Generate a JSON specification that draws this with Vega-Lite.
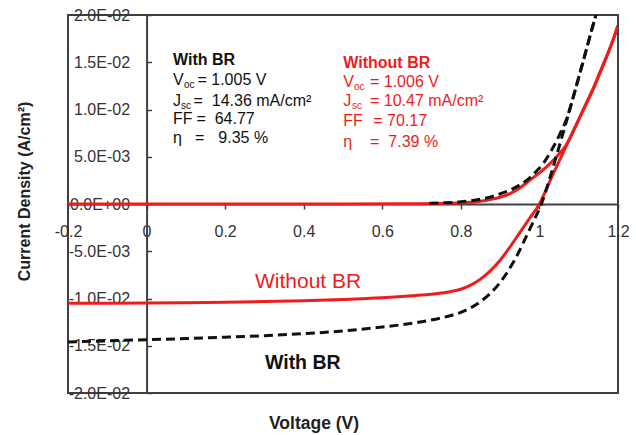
{
  "$schema": "https://vega.github.io/schema/vega-lite/v6.json",
  "width": 550,
  "height": 378,
  "autosize": {"type": "none"},
  "padding": {"left": 68, "top": 15, "right": 18, "bottom": 42},
  "background": "white",
  "config": {
    "view": {"stroke": "#404040", "strokeWidth": 2},
    "font": "Liberation Sans"
  },
  "datasets": {
    "curves": [
      {"sample": "Without BR", "condition": "light", "V": -0.2, "J": -0.0105},
      {"sample": "Without BR", "condition": "light", "V": -0.1, "J": -0.01049},
      {"sample": "Without BR", "condition": "light", "V": 0.0, "J": -0.01047},
      {"sample": "Without BR", "condition": "light", "V": 0.1, "J": -0.01044},
      {"sample": "Without BR", "condition": "light", "V": 0.2, "J": -0.0104},
      {"sample": "Without BR", "condition": "light", "V": 0.3, "J": -0.01033},
      {"sample": "Without BR", "condition": "light", "V": 0.4, "J": -0.01024},
      {"sample": "Without BR", "condition": "light", "V": 0.5, "J": -0.01011},
      {"sample": "Without BR", "condition": "light", "V": 0.6, "J": -0.00993},
      {"sample": "Without BR", "condition": "light", "V": 0.65, "J": -0.0098},
      {"sample": "Without BR", "condition": "light", "V": 0.7, "J": -0.00964},
      {"sample": "Without BR", "condition": "light", "V": 0.75, "J": -0.00942},
      {"sample": "Without BR", "condition": "light", "V": 0.775, "J": -0.00926},
      {"sample": "Without BR", "condition": "light", "V": 0.8, "J": -0.00902},
      {"sample": "Without BR", "condition": "light", "V": 0.825, "J": -0.00859},
      {"sample": "Without BR", "condition": "light", "V": 0.85, "J": -0.00795},
      {"sample": "Without BR", "condition": "light", "V": 0.875, "J": -0.00707},
      {"sample": "Without BR", "condition": "light", "V": 0.9, "J": -0.00595},
      {"sample": "Without BR", "condition": "light", "V": 0.925, "J": -0.00455},
      {"sample": "Without BR", "condition": "light", "V": 0.95, "J": -0.00303},
      {"sample": "Without BR", "condition": "light", "V": 0.975, "J": -0.00151},
      {"sample": "Without BR", "condition": "light", "V": 1.0, "J": 0.0},
      {"sample": "Without BR", "condition": "light", "V": 1.018, "J": 0.0016},
      {"sample": "Without BR", "condition": "light", "V": 1.035, "J": 0.0032},
      {"sample": "Without BR", "condition": "light", "V": 1.052, "J": 0.0047},
      {"sample": "Without BR", "condition": "light", "V": 1.069, "J": 0.0062},
      {"sample": "Without BR", "condition": "light", "V": 1.086, "J": 0.0077},
      {"sample": "Without BR", "condition": "light", "V": 1.103, "J": 0.0092},
      {"sample": "Without BR", "condition": "light", "V": 1.12, "J": 0.0107},
      {"sample": "Without BR", "condition": "light", "V": 1.137, "J": 0.0122},
      {"sample": "Without BR", "condition": "light", "V": 1.154, "J": 0.0139},
      {"sample": "Without BR", "condition": "light", "V": 1.171, "J": 0.0156},
      {"sample": "Without BR", "condition": "light", "V": 1.186, "J": 0.0172},
      {"sample": "Without BR", "condition": "light", "V": 1.2, "J": 0.0189},

      {"sample": "Without BR", "condition": "dark", "V": -0.2, "J": 0.0},
      {"sample": "Without BR", "condition": "dark", "V": 0.2, "J": 0.0},
      {"sample": "Without BR", "condition": "dark", "V": 0.5, "J": 0.0},
      {"sample": "Without BR", "condition": "dark", "V": 0.7, "J": 0.00003},
      {"sample": "Without BR", "condition": "dark", "V": 0.75, "J": 0.00006},
      {"sample": "Without BR", "condition": "dark", "V": 0.8, "J": 0.00012},
      {"sample": "Without BR", "condition": "dark", "V": 0.85, "J": 0.0003},
      {"sample": "Without BR", "condition": "dark", "V": 0.875, "J": 0.00048},
      {"sample": "Without BR", "condition": "dark", "V": 0.9, "J": 0.00072},
      {"sample": "Without BR", "condition": "dark", "V": 0.925, "J": 0.0011},
      {"sample": "Without BR", "condition": "dark", "V": 0.95, "J": 0.0017},
      {"sample": "Without BR", "condition": "dark", "V": 0.975, "J": 0.0025},
      {"sample": "Without BR", "condition": "dark", "V": 1.0, "J": 0.0033},
      {"sample": "Without BR", "condition": "dark", "V": 1.025, "J": 0.0042},
      {"sample": "Without BR", "condition": "dark", "V": 1.05, "J": 0.0053},
      {"sample": "Without BR", "condition": "dark", "V": 1.069, "J": 0.0063},
      {"sample": "Without BR", "condition": "dark", "V": 1.086, "J": 0.0077},
      {"sample": "Without BR", "condition": "dark", "V": 1.103, "J": 0.0092},
      {"sample": "Without BR", "condition": "dark", "V": 1.12, "J": 0.0107},
      {"sample": "Without BR", "condition": "dark", "V": 1.137, "J": 0.0122},
      {"sample": "Without BR", "condition": "dark", "V": 1.154, "J": 0.0139},
      {"sample": "Without BR", "condition": "dark", "V": 1.171, "J": 0.0156},
      {"sample": "Without BR", "condition": "dark", "V": 1.186, "J": 0.0172},
      {"sample": "Without BR", "condition": "dark", "V": 1.2, "J": 0.0189},

      {"sample": "With BR", "condition": "light", "V": -0.2, "J": -0.0146},
      {"sample": "With BR", "condition": "light", "V": -0.1, "J": -0.01448},
      {"sample": "With BR", "condition": "light", "V": 0.0, "J": -0.01436},
      {"sample": "With BR", "condition": "light", "V": 0.1, "J": -0.01424},
      {"sample": "With BR", "condition": "light", "V": 0.2, "J": -0.0141},
      {"sample": "With BR", "condition": "light", "V": 0.3, "J": -0.01394},
      {"sample": "With BR", "condition": "light", "V": 0.4, "J": -0.01372},
      {"sample": "With BR", "condition": "light", "V": 0.5, "J": -0.01343},
      {"sample": "With BR", "condition": "light", "V": 0.6, "J": -0.01302},
      {"sample": "With BR", "condition": "light", "V": 0.65, "J": -0.01277},
      {"sample": "With BR", "condition": "light", "V": 0.7, "J": -0.01246},
      {"sample": "With BR", "condition": "light", "V": 0.75, "J": -0.01206},
      {"sample": "With BR", "condition": "light", "V": 0.775, "J": -0.0118},
      {"sample": "With BR", "condition": "light", "V": 0.8, "J": -0.01146},
      {"sample": "With BR", "condition": "light", "V": 0.825, "J": -0.01098},
      {"sample": "With BR", "condition": "light", "V": 0.85, "J": -0.01033},
      {"sample": "With BR", "condition": "light", "V": 0.875, "J": -0.00945},
      {"sample": "With BR", "condition": "light", "V": 0.9, "J": -0.0083},
      {"sample": "With BR", "condition": "light", "V": 0.92, "J": -0.0071},
      {"sample": "With BR", "condition": "light", "V": 0.94, "J": -0.0057},
      {"sample": "With BR", "condition": "light", "V": 0.96, "J": -0.0040},
      {"sample": "With BR", "condition": "light", "V": 0.983, "J": -0.0020},
      {"sample": "With BR", "condition": "light", "V": 1.005, "J": 0.0},
      {"sample": "With BR", "condition": "light", "V": 1.027, "J": 0.0028},
      {"sample": "With BR", "condition": "light", "V": 1.044, "J": 0.0052},
      {"sample": "With BR", "condition": "light", "V": 1.065, "J": 0.0082},
      {"sample": "With BR", "condition": "light", "V": 1.086, "J": 0.0113},
      {"sample": "With BR", "condition": "light", "V": 1.1, "J": 0.0134},
      {"sample": "With BR", "condition": "light", "V": 1.112, "J": 0.0152},
      {"sample": "With BR", "condition": "light", "V": 1.127, "J": 0.0175},
      {"sample": "With BR", "condition": "light", "V": 1.145, "J": 0.0202},

      {"sample": "With BR", "condition": "dark", "V": 0.72, "J": 0.00008},
      {"sample": "With BR", "condition": "dark", "V": 0.75, "J": 0.00012},
      {"sample": "With BR", "condition": "dark", "V": 0.8, "J": 0.00023},
      {"sample": "With BR", "condition": "dark", "V": 0.85, "J": 0.0005},
      {"sample": "With BR", "condition": "dark", "V": 0.88, "J": 0.0008},
      {"sample": "With BR", "condition": "dark", "V": 0.91, "J": 0.00122},
      {"sample": "With BR", "condition": "dark", "V": 0.933, "J": 0.00163},
      {"sample": "With BR", "condition": "dark", "V": 0.955, "J": 0.00215},
      {"sample": "With BR", "condition": "dark", "V": 0.976, "J": 0.0028},
      {"sample": "With BR", "condition": "dark", "V": 0.993, "J": 0.0035},
      {"sample": "With BR", "condition": "dark", "V": 1.01, "J": 0.0043},
      {"sample": "With BR", "condition": "dark", "V": 1.035, "J": 0.006},
      {"sample": "With BR", "condition": "dark", "V": 1.052, "J": 0.0074},
      {"sample": "With BR", "condition": "dark", "V": 1.07, "J": 0.0091},
      {"sample": "With BR", "condition": "dark", "V": 1.086, "J": 0.0113},
      {"sample": "With BR", "condition": "dark", "V": 1.1, "J": 0.0134},
      {"sample": "With BR", "condition": "dark", "V": 1.112, "J": 0.0152},
      {"sample": "With BR", "condition": "dark", "V": 1.127, "J": 0.0175},
      {"sample": "With BR", "condition": "dark", "V": 1.145, "J": 0.0202}
    ],
    "notes": [
      {"block": "With BR", "role": "header", "x": 0.0673, "y": 0.01519, "text": "With BR"},
      {"block": "With BR", "role": "body", "x": 0.0673, "y": 0.01312, "text": "V"},
      {"block": "With BR", "role": "sub", "x": 0.0953, "y": 0.01312, "text": "oc"},
      {"block": "With BR", "role": "body", "x": 0.1295, "y": 0.01312, "text": "= 1.005 V"},
      {"block": "With BR", "role": "body", "x": 0.0673, "y": 0.01095, "text": "J"},
      {"block": "With BR", "role": "sub", "x": 0.0876, "y": 0.01095, "text": "sc"},
      {"block": "With BR", "role": "body", "x": 0.1195, "y": 0.01095, "text": "=\u00a0\u00a014.36 mA/cm²"},
      {"block": "With BR", "role": "body", "x": 0.0673, "y": 0.009, "text": "FF"},
      {"block": "With BR", "role": "body", "x": 0.127, "y": 0.009, "text": "=\u00a0\u00a064.77"},
      {"block": "With BR", "role": "body", "x": 0.0673, "y": 0.00698, "text": "η"},
      {"block": "With BR", "role": "body", "x": 0.1233, "y": 0.00698, "text": "="},
      {"block": "With BR", "role": "body", "x": 0.1826, "y": 0.00698, "text": "9.35 %"},
      {"block": "Without BR", "role": "header", "x": 0.5008, "y": 0.01489, "text": "Without BR"},
      {"block": "Without BR", "role": "body", "x": 0.5008, "y": 0.01286, "text": "V"},
      {"block": "Without BR", "role": "sub", "x": 0.528, "y": 0.01286, "text": "oc"},
      {"block": "Without BR", "role": "body", "x": 0.5687, "y": 0.01286, "text": "= 1.006 V"},
      {"block": "Without BR", "role": "body", "x": 0.5008, "y": 0.01092, "text": "J"},
      {"block": "Without BR", "role": "sub", "x": 0.5229, "y": 0.01092, "text": "sc"},
      {"block": "Without BR", "role": "body", "x": 0.5687, "y": 0.01092, "text": "= 10.47 mA/cm²"},
      {"block": "Without BR", "role": "body", "x": 0.5008, "y": 0.00876, "text": "FF"},
      {"block": "Without BR", "role": "body", "x": 0.5771, "y": 0.00876, "text": "= 70.17"},
      {"block": "Without BR", "role": "body", "x": 0.5008, "y": 0.00651, "text": "η"},
      {"block": "Without BR", "role": "body", "x": 0.5687, "y": 0.00651, "text": "="},
      {"block": "Without BR", "role": "body", "x": 0.6153, "y": 0.00651, "text": "7.39 %"},
      {"block": "Without BR", "role": "label", "x": 0.276, "y": -0.00822, "text": "Without BR"},
      {"block": "With BR", "role": "label", "x": 0.3014, "y": -0.01679, "text": "With BR"}
    ]
  },
  "layer": [
    {
      "data": {"name": "curves"},
      "transform": [{"filter": "datum.sample == 'Without BR'"}],
      "mark": {"type": "line", "strokeWidth": 3, "interpolate": "monotone", "clip": true},
      "encoding": {
        "x": {
          "field": "V", "type": "quantitative",
          "scale": {"domain": [-0.2, 1.2], "nice": false, "zero": false},
          "axis": {
            "orient": "bottom",
            "offset": -189,
            "values": [-0.2, 0, 0.2, 0.4, 0.6, 0.8, 1, 1.2],
            "labelExpr": "datum.value + ''",
            "labelFlush": false,
            "labelOverlap": false,
            "grid": false,
            "domainColor": "#404040",
            "domainWidth": 2,
            "tickColor": "#404040",
            "tickWidth": 1.5,
            "tickSize": 5,
            "labelPadding": 14,
            "labelFont": "Liberation Sans",
            "labelFontSize": 16,
            "labelColor": "#333333",
            "title": "Voltage (V)",
            "titleFont": "Liberation Sans",
            "titleFontSize": 17.5,
            "titleFontWeight": "bold",
            "titleColor": "#222222",
            "titleX": 245.5,
            "titleY": 219,
            "titleBaseline": "middle",
            "titleAlign": "center"
          }
        },
        "y": {
          "field": "J", "type": "quantitative",
          "scale": {"domain": [-0.02, 0.02], "nice": false, "zero": false},
          "axis": {
            "orient": "left",
            "offset": -78.571,
            "values": [-0.02, -0.015, -0.01, -0.005, 0, 0.005, 0.01, 0.015, 0.02],
            "labelExpr": "datum.value == 0 ? '0.0E+00' : (datum.value < 0 ? '-' : '') + replace(format(abs(datum.value), '.1e'), 'e-', 'E-0')",
            "labelOverlap": false,
            "grid": false,
            "domainColor": "#404040",
            "domainWidth": 2,
            "tickColor": "#404040",
            "tickWidth": 1.5,
            "tickSize": -5,
            "labelPadding": 22,
            "labelFont": "Liberation Sans",
            "labelFontSize": 16,
            "labelColor": "#333333",
            "title": "Current Density  (A/cm²)",
            "titleFont": "Liberation Sans",
            "titleFontSize": 16,
            "titleFontWeight": "bold",
            "titleColor": "#222222",
            "titleX": -121.6,
            "titleY": 176,
            "titleAngle": -90,
            "titleBaseline": "middle",
            "titleAlign": "center"
          }
        },
        "color": {"field": "sample", "type": "nominal", "scale": {"domain": ["With BR", "Without BR"], "range": ["#111111", "#ee1c1c"]}, "legend": null},
        "detail": {"field": "condition"}
      }
    },
    {
      "data": {"name": "curves"},
      "transform": [{"filter": "datum.sample == 'With BR'"}],
      "mark": {"type": "line", "strokeWidth": 3, "strokeDash": [9, 5], "interpolate": "monotone", "clip": true},
      "encoding": {
        "x": {"field": "V", "type": "quantitative"},
        "y": {"field": "J", "type": "quantitative"},
        "color": {"field": "sample", "type": "nominal", "legend": null},
        "detail": {"field": "condition"}
      }
    },
    {
      "data": {"name": "notes"},
      "transform": [{"filter": "datum.role == 'header'"}],
      "mark": {"type": "text", "align": "left", "baseline": "middle", "font": "Liberation Sans", "fontSize": 16, "fontWeight": "bold"},
      "encoding": {
        "x": {"field": "x", "type": "quantitative"},
        "y": {"field": "y", "type": "quantitative"},
        "text": {"field": "text"},
        "color": {"field": "block", "type": "nominal", "legend": null}
      }
    },
    {
      "data": {"name": "notes"},
      "transform": [{"filter": "datum.role == 'body'"}],
      "mark": {"type": "text", "align": "left", "baseline": "middle", "font": "Liberation Sans", "fontSize": 16},
      "encoding": {
        "x": {"field": "x", "type": "quantitative"},
        "y": {"field": "y", "type": "quantitative"},
        "text": {"field": "text"},
        "color": {"field": "block", "type": "nominal", "legend": null}
      }
    },
    {
      "data": {"name": "notes"},
      "transform": [{"filter": "datum.role == 'sub'"}],
      "mark": {"type": "text", "align": "left", "baseline": "middle", "font": "Liberation Sans", "fontSize": 10, "dy": 5},
      "encoding": {
        "x": {"field": "x", "type": "quantitative"},
        "y": {"field": "y", "type": "quantitative"},
        "text": {"field": "text"},
        "color": {"field": "block", "type": "nominal", "legend": null}
      }
    },
    {
      "data": {"name": "notes"},
      "transform": [{"filter": "datum.role == 'label' && datum.block == 'Without BR'"}],
      "mark": {"type": "text", "align": "left", "baseline": "middle", "font": "Liberation Sans", "fontSize": 21},
      "encoding": {
        "x": {"field": "x", "type": "quantitative"},
        "y": {"field": "y", "type": "quantitative"},
        "text": {"field": "text"},
        "color": {"field": "block", "type": "nominal", "legend": null}
      }
    },
    {
      "data": {"name": "notes"},
      "transform": [{"filter": "datum.role == 'label' && datum.block == 'With BR'"}],
      "mark": {"type": "text", "align": "left", "baseline": "middle", "font": "Liberation Sans", "fontSize": 19.5, "fontWeight": "bold"},
      "encoding": {
        "x": {"field": "x", "type": "quantitative"},
        "y": {"field": "y", "type": "quantitative"},
        "text": {"field": "text"},
        "color": {"field": "block", "type": "nominal", "legend": null}
      }
    }
  ]
}
